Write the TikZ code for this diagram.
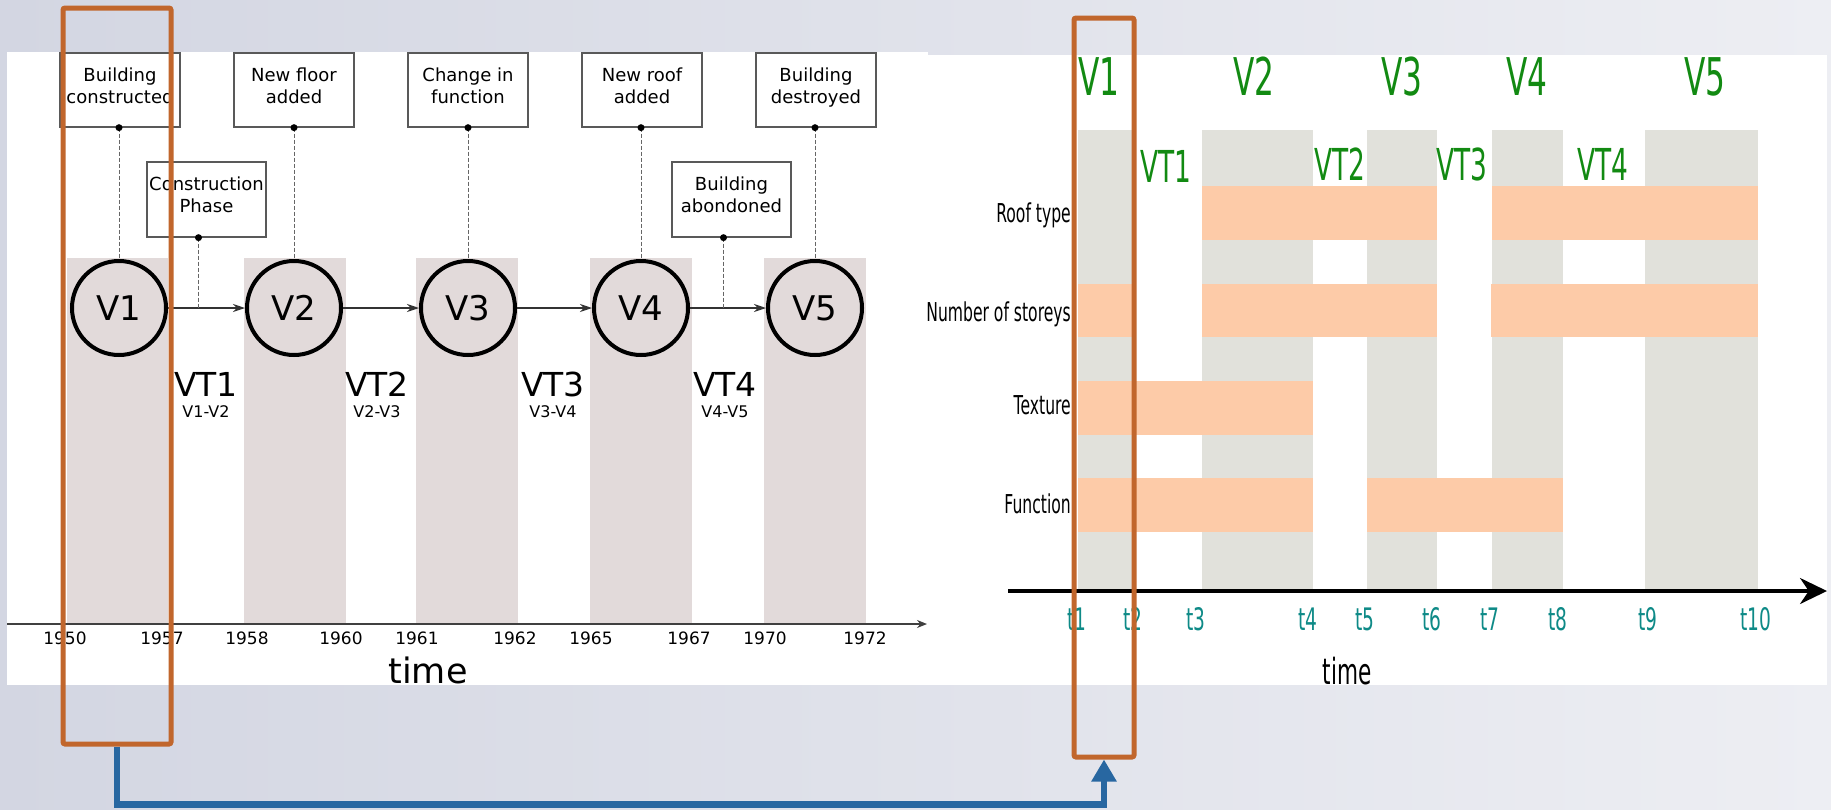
\documentclass[tikz,border=0pt]{standalone}
\usepackage{fontspec}
\setmainfont{DejaVu Sans}
\newfontfamily\narrowfont[FakeStretch=0.6]{DejaVu Sans}
\usetikzlibrary{arrows.meta,positioning}
\definecolor{back1}{HTML}{D3D6E2}
\definecolor{back2}{HTML}{EDEEF3}
\definecolor{rose1}{HTML}{E2DADA}
\definecolor{grey1}{HTML}{E1E1DB}
\definecolor{salmon1}{HTML}{FDCBA8}
\definecolor{green1}{HTML}{128A12}
\definecolor{teal1}{HTML}{0E8A87}
\definecolor{orange1}{HTML}{C1662C}
\definecolor{blue1}{HTML}{2867A1}
\definecolor{line1}{HTML}{595959}

\begin{document}
\begin{tikzpicture}[x=1pt, y=-1pt, align=center,
  state/.style={circle, draw=black, line width=4pt, minimum size=94pt, inner sep=0pt, font=\fontsize{34}{40}\selectfont},
  event/.style={rectangle, draw=line1, line width=1.3pt, fill=white, minimum width=120pt, minimum height=74pt, inner xsep=2pt, text depth=9pt, font=\fontsize{18}{22}\selectfont},
  flow/.style={draw=black!80, line width=1.2pt, -{Stealth[length=12pt,width=8pt]}},
  link/.style={draw=black!60, line width=1pt, dash pattern=on 4pt off 2pt},
  trans/.style={anchor=base, inner sep=0pt, font=\fontsize{33}{38}\selectfont},
  pair/.style={anchor=base, inner sep=0pt, font=\fontsize{16}{19}\selectfont},
  year/.style={inner sep=0pt, font=\fontsize{17}{20}\selectfont},
  vlbl/.style={anchor=base, inner sep=0pt, text=green1, font=\narrowfont\fontsize{52}{60}\selectfont},
  vtlbl/.style={anchor=base, inner sep=0pt, text=green1, font=\narrowfont\fontsize{44}{50}\selectfont},
  rowlbl/.style={anchor=base east, inner sep=0pt, font=\narrowfont\fontsize{26}{30}\selectfont},
  tlbl/.style={anchor=base, inner sep=0pt, text=teal1, font=\narrowfont\fontsize{31}{36}\selectfont},
  frame/.style={draw=orange1, line width=5pt, rounded corners=2pt, inner sep=0pt},
  conn/.style={draw=blue1, line width=6.5pt, -{Triangle[length=22pt,width=24pt]}}]
\useasboundingbox (0,0) rectangle (1831,809);
\shade[left color=back1, right color=back2] (0,0) rectangle (1831,809);
\fill[white] (7,52) rectangle (928,685);
\fill[white] (927,55) rectangle (1827,685);

\filldraw[shift={(67,258)}, fill=rose1, draw=none] (0,0) rectangle (101,365);
\filldraw[shift={(244,258)}, fill=rose1, draw=none] (0,0) rectangle (102,365);
\filldraw[shift={(416,258)}, fill=rose1, draw=none] (0,0) rectangle (102,365);
\filldraw[shift={(590,258)}, fill=rose1, draw=none] (0,0) rectangle (102,365);
\filldraw[shift={(764,258)}, fill=rose1, draw=none] (0,0) rectangle (102,365);

\coordinate (l0) at (7,624);
\coordinate (l1) at (927,624);
\draw[draw=black!75, line width=1.5pt, -{Stealth[length=10pt,width=8pt]}] (l0) -- (l1);

\node[state] (v1) at (119,308) {V1};
\node[state] (v2) at (294,308) {V2};
\node[state] (v3) at (468,308) {V3};
\node[state] (v4) at (641,308) {V4};
\node[state] (v5) at (815,308) {V5};

\draw[flow] (v1) -- (v2);
\draw[flow] (v2) -- (v3);
\draw[flow] (v3) -- (v4);
\draw[flow] (v4) -- (v5);

\node[event] (e1) at (120,90) {Building\\constructed};
\node[event] (e2) at (294,90) {New floor\\added};
\node[event] (e3) at (468,90) {Change in\\function};
\node[event] (e4) at (642,90) {New roof\\added};
\node[event] (e5) at (816,90) {Building\\destroyed};
\node[event, minimum width=119pt, minimum height=75pt] (p1) at (206.5,199.5) {Construction\\Phase};
\node[event, minimum width=119pt, minimum height=75pt] (p2) at (731.5,199.5) {Building\\abondoned};

\draw[link] (v1.north |- e1.south) -- (v1.north);
\draw[link] (v2.north |- e2.south) -- (v2.north);
\draw[link] (v3.north |- e3.south) -- (v3.north);
\draw[link] (v4.north |- e4.south) -- (v4.north);
\draw[link] (v5.north |- e5.south) -- (v5.north);
\draw[link] ([xshift=-8pt]p1.south) -- ([xshift=-8pt]p1.south |- v1.east);
\draw[link] ([xshift=-8pt]p2.south) -- ([xshift=-8pt]p2.south |- v4.east);
\fill (v1.north |- e1.south) circle (3.5);
\fill (v2.north |- e2.south) circle (3.5);
\fill (v3.north |- e3.south) circle (3.5);
\fill (v4.north |- e4.south) circle (3.5);
\fill (v5.north |- e5.south) circle (3.5);
\fill ([xshift=-8pt]p1.south) circle (3.5);
\fill ([xshift=-8pt]p2.south) circle (3.5);

\node[trans] (vt1) at (206,396) {VT1};
\node[trans] (vt2) at (377,396) {VT2};
\node[trans] (vt3) at (553,396) {VT3};
\node[trans] (vt4) at (725,396) {VT4};
\node[pair] (vp1) at (206,417) {V1-V2};
\node[pair] (vp2) at (377,417) {V2-V3};
\node[pair] (vp3) at (553,417) {V3-V4};
\node[pair] (vp4) at (725,417) {V4-V5};

\node[year] (y1) at (65,638) {1950};
\node[year] (y2) at (162,638) {1957};
\node[year] (y3) at (247,638) {1958};
\node[year] (y4) at (341,638) {1960};
\node[year] (y5) at (417,638) {1961};
\node[year] (y6) at (515,638) {1962};
\node[year] (y7) at (591,638) {1965};
\node[year] (y8) at (689,638) {1967};
\node[year] (y9) at (765,638) {1970};
\node[year] (y10) at (865,638) {1972};
\node[anchor=base, inner sep=0pt, font=\fontsize{35}{40}\selectfont] (time1) at (428,683) {time};

\filldraw[shift={(1078,130)}, fill=grey1, draw=none] (0,0) rectangle (54,461);
\filldraw[shift={(1202,130)}, fill=grey1, draw=none] (0,0) rectangle (111,461);
\filldraw[shift={(1367,130)}, fill=grey1, draw=none] (0,0) rectangle (70,461);
\filldraw[shift={(1492,130)}, fill=grey1, draw=none] (0,0) rectangle (71,461);
\filldraw[shift={(1645,130)}, fill=grey1, draw=none] (0,0) rectangle (113,461);

\filldraw[shift={(1202,186)}, fill=salmon1, draw=none] (0,0) rectangle (235,54);
\filldraw[shift={(1492,186)}, fill=salmon1, draw=none] (0,0) rectangle (266,54);
\filldraw[shift={(1078,284)}, fill=salmon1, draw=none] (0,0) rectangle (54,53);
\filldraw[shift={(1202,284)}, fill=salmon1, draw=none] (0,0) rectangle (235,53);
\filldraw[shift={(1491,284)}, fill=salmon1, draw=none] (0,0) rectangle (267,53);
\filldraw[shift={(1078,381)}, fill=salmon1, draw=none] (0,0) rectangle (235,54);
\filldraw[shift={(1078,478)}, fill=salmon1, draw=none] (0,0) rectangle (235,54);
\filldraw[shift={(1367,478)}, fill=salmon1, draw=none] (0,0) rectangle (196,54);

\node[rowlbl] (roof) at (1071,222) {Roof type};
\node[rowlbl] (storeys) at (1071,321) {Number of storeys};
\node[rowlbl] (texture) at (1071,414) {Texture};
\node[rowlbl] (function) at (1071,513) {Function};

\node[vlbl] (g1) at (1099,95) {V1};
\node[vlbl] (g2) at (1254,95) {V2};
\node[vlbl] (g3) at (1402,95) {V3};
\node[vlbl] (g4) at (1527,95) {V4};
\node[vlbl] (g5) at (1705,95) {V5};
\node[vtlbl] (gt1) at (1166,182) {VT1};
\node[vtlbl] (gt2) at (1340,180) {VT2};
\node[vtlbl] (gt3) at (1462,180) {VT3};
\node[vtlbl] (gt4) at (1603,180) {VT4};

\coordinate (r0) at (1008,591);
\coordinate (r1) at (1827,591);
\draw[draw=black, line width=3.5pt, -{Stealth[length=27pt,width=26pt]}] (r0) -- (r1);

\node[tlbl] (t1) at (1077,630) {t1};
\node[tlbl] (t2) at (1133,630) {t2};
\node[tlbl] (t3) at (1196,630) {t3};
\node[tlbl] (t4) at (1308,630) {t4};
\node[tlbl] (t5) at (1365,630) {t5};
\node[tlbl] (t6) at (1432,630) {t6};
\node[tlbl] (t7) at (1490,630) {t7};
\node[tlbl] (t8) at (1558,630) {t8};
\node[tlbl] (t9) at (1648,630) {t9};
\node[tlbl] (t10) at (1756,630) {t10};
\node[anchor=base, inner sep=0pt, font=\narrowfont\fontsize{36}{40}\selectfont] (time2) at (1347,684) {time};

\node[frame, minimum width=108pt, minimum height=736pt] (sel1) at (117,376) {};
\node[frame, minimum width=60pt, minimum height=739pt] (sel2) at (1104,387.5) {};
\draw[conn] (sel1.south) -- ++(0,58) -| (sel2.south);
\end{tikzpicture}
\end{document}
